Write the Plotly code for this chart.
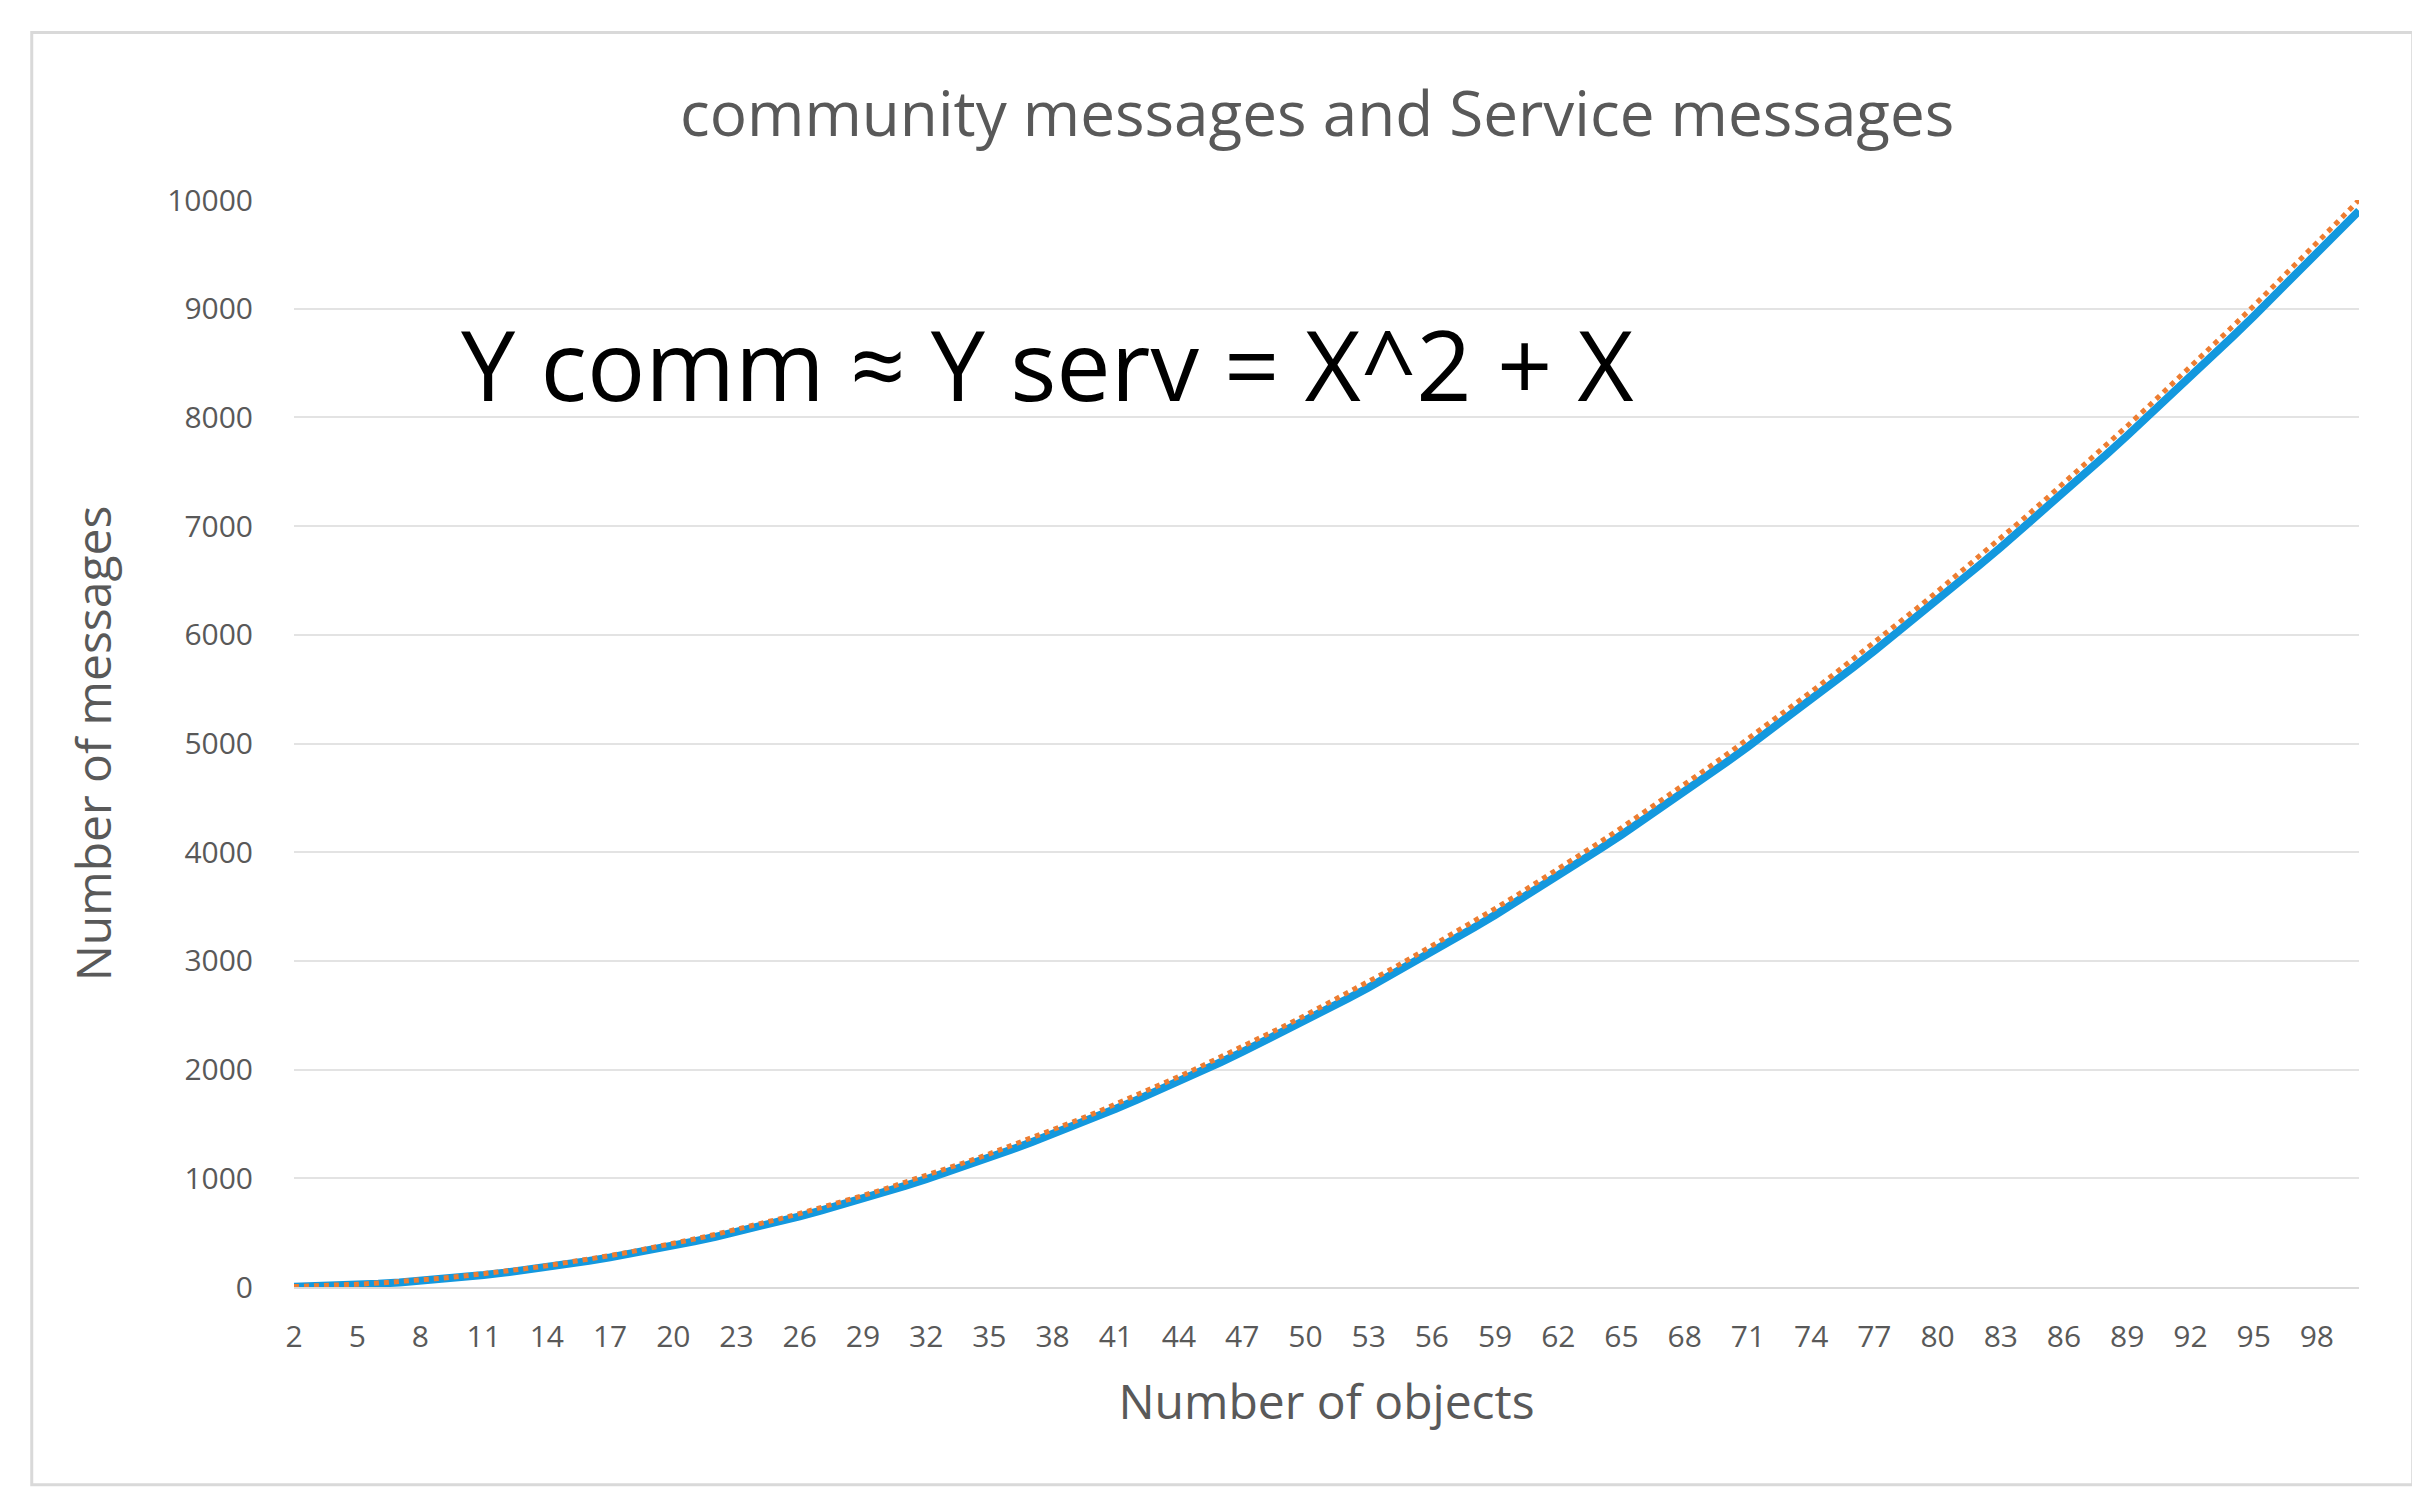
import plotly.graph_objects as go

objects = list(range(2, 101))
service = [2,6,12,20,30,42,56,72,90,110,132,156,182,210,240,272,306,342,380,420,462,506,552,600,650,702,756,812,870,930,992,1056,1122,1190,1260,1332,1406,1482,1560,1640,1722,1806,1892,1980,2070,2162,2256,2352,2450,2550,2652,2756,2862,2970,3080,3192,3306,3422,3540,3660,3782,3906,4032,4160,4290,4422,4556,4692,4830,4970,5112,5256,5402,5550,5700,5852,6006,6162,6320,6480,6642,6806,6972,7140,7310,7482,7656,7832,8010,8190,8372,8556,8742,8930,9120,9312,9506,9702,9900]
community = [4,9,16,25,36,49,64,81,100,121,144,169,196,225,256,289,324,361,400,441,484,529,576,625,676,729,784,841,900,961,1024,1089,1156,1225,1296,1369,1444,1521,1600,1681,1764,1849,1936,2025,2116,2209,2304,2401,2500,2601,2704,2809,2916,3025,3136,3249,3364,3481,3600,3721,3844,3969,4096,4225,4356,4489,4624,4761,4900,5041,5184,5329,5476,5625,5776,5929,6084,6241,6400,6561,6724,6889,7056,7225,7396,7569,7744,7921,8100,8281,8464,8649,8836,9025,9216,9409,9604,9801,10000]
tick_labels = [str(v) for v in range(2, 101, 3)]
y_ticks = list(range(0, 10001, 1000))
y_tick_labels = [str(v) for v in y_ticks]

font = "Open Sans"
fig = go.Figure()
fig.add_trace(go.Scatter(x=objects, y=service, mode="lines",
                         line=dict(color="#1398DE", width=8), name="Service"))
fig.add_trace(go.Scatter(x=objects, y=community, mode="lines",
                         line=dict(color="#ED7D31", width=5, dash="dot"), name="community"))

fig.update_layout(
    width=2420, height=1492, showlegend=False,
    paper_bgcolor="white", plot_bgcolor="white",
    margin=dict(l=286, r=69, t=192, b=213),
    title=dict(text="community messages and Service messages", x=0.541, xanchor="center",
               y=0.929, yanchor="middle", font=dict(family=font, size=62, color="#595959")),
    font=dict(family=font, color="#595959"),
    shapes=[dict(type="rect", xref="paper", yref="paper", x0=-0.127, x1=1.026, y0=-0.182, y1=1.154,
                 line=dict(color="#D9D9D9", width=3))],
    annotations=[dict(text="Y comm ≈ Y serv = X^2 + X", xref="paper", yref="paper",
                      x=0.08, y=0.85, xanchor="left", yanchor="middle", showarrow=False,
                      font=dict(family=font, size=97, color="black"))],
)
fig.update_xaxes(range=[2, 100], tickmode="array", tickvals=list(range(2, 101, 3)), ticktext=tick_labels,
                 tickfont=dict(size=30, color="#595959"), showgrid=False, zeroline=False,
                 showline=True, linecolor="#D9D9D9", linewidth=2, ticks="", ticklabelstandoff=22,
                 title=dict(text="Number of objects", font=dict(size=48, color="#595959"), standoff=30))
fig.update_yaxes(range=[0, 10000], tickmode="array", tickvals=y_ticks, ticktext=y_tick_labels,
                 tickfont=dict(size=30, color="#595959"),
                 showgrid=True, gridcolor="#E3E3E3", gridwidth=2, zeroline=False, ticks="",
                 ticklabelstandoff=40,
                 title=dict(text="Number of messages", font=dict(size=48, color="#595959"), standoff=40))
fig.write_html("out.html")
